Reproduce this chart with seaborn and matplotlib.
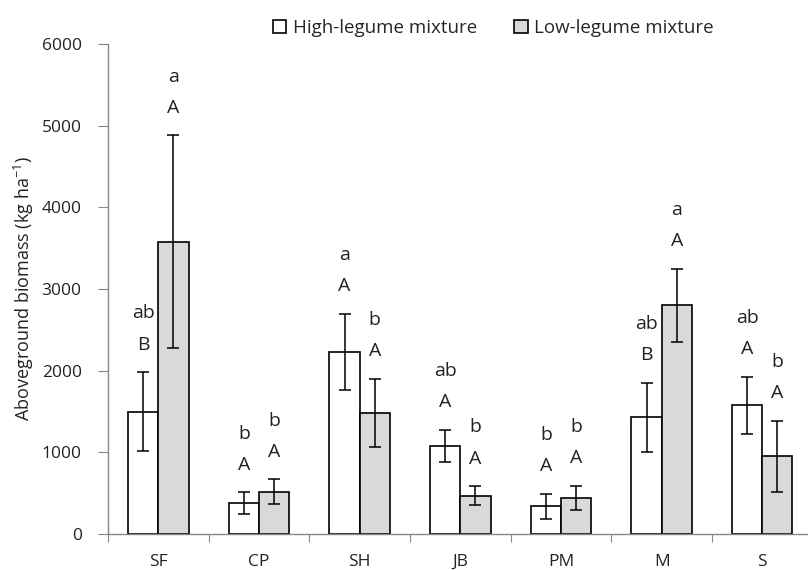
import numpy as np
import pandas as pd
import matplotlib
matplotlib.use("Agg")
import matplotlib.pyplot as plt
import seaborn as sns

# ---- data ----
categories = ['SF', 'CP', 'SH', 'JB', 'PM', 'M', 'S']
series = ['High-legume mixture', 'Low-legume mixture']

high_mean = [1500, 380, 2230, 1080, 340, 1430, 1575]
low_mean = [3580, 520, 1480, 470, 440, 2800, 950]
high_err = [480, 130, 470, 195, 150, 420, 345]
low_err = [1300, 150, 420, 115, 150, 450, 435]

high_lower = ['ab', 'b', 'a', 'ab', 'b', 'ab', 'ab']
high_upper = ['B', 'A', 'A', 'A', 'A', 'B', 'A']
low_lower = ['a', 'b', 'b', 'b', 'b', 'a', 'b']
low_upper = ['A', 'A', 'A', 'A', 'A', 'A', 'A']

df = pd.DataFrame({
    'category': categories * 2,
    'mixture': [series[0]] * len(categories) + [series[1]] * len(categories),
    'biomass': high_mean + low_mean,
})

sns.set_style('white')
plt.rcParams['font.family'] = ['Open Sans', 'DejaVu Sans']
plt.rcParams['mathtext.default'] = 'regular'

fig = plt.figure(figsize=(8.08, 5.70), dpi=100)
ax = fig.add_axes([0.1337, 0.063, 0.872, 0.86])

sns.barplot(data=df, x='category', y='biomass', hue='mixture',
            order=categories, hue_order=series,
            palette=['white', '#d9d9d9'], edgecolor='black', linewidth=1.2,
            width=0.6, errorbar=None, ax=ax)

# error bars and significance letters
x = np.arange(len(categories))
off = 0.15
for xs, means, errs, lo, up in [(x - off, high_mean, high_err, high_lower, high_upper),
                               (x + off, low_mean, low_err, low_lower, low_upper)]:
    ax.errorbar(xs, means, yerr=errs, fmt='none', ecolor='black',
                elinewidth=1.1, capsize=4.5, capthick=1.1)
    for xi, m, e, l, u in zip(xs, means, errs, lo, up):
        top = m + e
        ax.text(xi, top + 340, u, ha='center', va='center', fontsize=14, color='#222222')
        ax.text(xi, top + 720, l, ha='center', va='center', fontsize=14, color='#222222')

ax.set_xlim(-0.5, 6.5)
ax.set_ylim(0, 6000)
ax.set_yticks(range(0, 6001, 1000))
ax.set_ylabel('Aboveground biomass (kg ha$^{-1}$)', fontsize=13, color='#222222', labelpad=4)
ax.set_xlabel('')

# x ticks sit between groups, labels at group centres
ax.set_xticks(np.arange(-0.5, 7, 1))
ax.set_xticklabels([])
ax.set_xticks(x, minor=True)
ax.set_xticklabels(categories, minor=True, fontsize=12.5, color='#222222')
ax.tick_params(axis='x', which='major', direction='out', length=6, color='#888888', bottom=True)
ax.tick_params(axis='x', which='minor', length=0, pad=14)
ax.tick_params(axis='y', direction='out', length=7, color='#888888', left=True,
               labelsize=12.5, labelcolor='#222222', pad=12)

for side in ['top', 'right']:
    ax.spines[side].set_visible(False)
for side in ['left', 'bottom']:
    ax.spines[side].set_color('#888888')
    ax.spines[side].set_linewidth(1)

handles, labels = ax.get_legend_handles_labels()
ax.legend(handles, labels, loc='center', bbox_to_anchor=(0.547, 1.033), ncol=2,
          frameon=False, fontsize=13.5, handlelength=0.7, handleheight=0.7,
          handletextpad=0.35, columnspacing=2.0, borderpad=0)

fig.savefig('out.png', dpi=100)
